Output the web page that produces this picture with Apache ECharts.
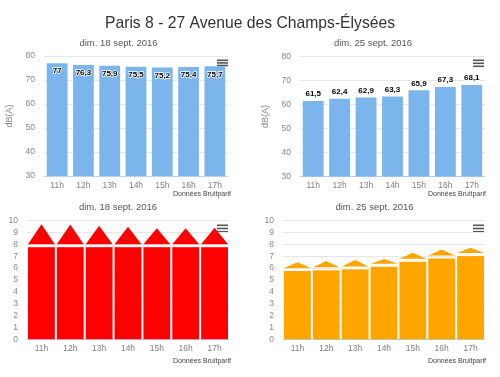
<!DOCTYPE html>
<html>
<head>
<meta charset="utf-8">
<script src="https://cdn.jsdelivr.net/npm/echarts@6/dist/echarts.min.js"></script>
<style>
  html, body { margin: 0; padding: 0; background: #fff; }
  #chart { width: 500px; height: 377px; }
</style>
</head>
<body>
<div id="chart"></div>
<script>
// heures
var hours = ["11h", "12h", "13h", "14h", "15h", "16h", "17h"];
// niveaux sonores dB(A)
var noise18 = [77, 76.3, 75.9, 75.5, 75.2, 75.4, 75.7];
var noise25 = [61.5, 62.4, 62.9, 63.3, 65.9, 67.3, 68.1];
// indices (corps + pointe du toit)
var body18 = [7.85, 7.85, 7.85, 7.85, 7.85, 7.85, 7.85];
var peak18 = [9.7, 9.68, 9.57, 9.49, 9.36, 9.36, 9.4];
var body25 = [5.84, 5.9, 5.98, 6.2, 6.62, 6.9, 7.1];
var peak25 = [6.49, 6.6, 6.68, 6.77, 7.3, 7.58, 7.72];

var font = '"Liberation Sans", Arial, sans-serif';

function commaLabel(p) {
  return String(p.value).replace(".", ",");
}

function houseData(body, peak) {
  return body.map(function (b, i) {
    return [i, b, peak[i]];
  });
}

// colonne + toit triangulaire
function renderHouse(params, api) {
  var i = api.value(0);
  var p0 = api.coord([i, 0]);
  var p1 = api.coord([i, api.value(1)]);
  var p2 = api.coord([i, api.value(2)]);
  var w = api.size([1, 0])[0] - 2;
  var color = api.visual("color");
  var x0 = p0[0] - w / 2;
  return {
    type: "group",
    children: [
      {
        type: "rect",
        shape: { x: x0, y: p1[1], width: w, height: p0[1] - p1[1] },
        style: { fill: color }
      },
      {
        type: "rect",
        shape: { x: x0, y: p1[1] - 0.5, width: w, height: 1.5 },
        style: { fill: "#fff" }
      },
      {
        type: "polygon",
        shape: { points: [[x0, p1[1] - 2], [x0 + w, p1[1] - 2], [p2[0], p2[1]]] },
        style: { fill: color }
      }
    ]
  };
}

function xAxisCfg(gridIndex) {
  return {
    type: "category",
    gridIndex: gridIndex,
    data: hours,
    axisLine: { lineStyle: { color: "#C0D0E0" } },
    axisTick: { length: 5, lineStyle: { color: "#C0D0E0" } },
    axisLabel: { color: "#808080", fontSize: 8.5, fontFamily: font, margin: 5 }
  };
}

function yAxisCfg(gridIndex, min, max, interval, name) {
  return {
    type: "value",
    gridIndex: gridIndex,
    min: min,
    max: max,
    interval: interval,
    name: name,
    nameLocation: "middle",
    nameGap: 30,
    nameTextStyle: { color: "#888", fontSize: 9, fontFamily: font },
    axisLine: { show: false },
    axisTick: { show: false },
    axisLabel: { color: "#888", fontSize: 8.5, fontFamily: font, margin: 9 },
    splitLine: { lineStyle: { color: "#e6e6e6" } }
  };
}

function menuIcon(x, y, gap) {
  var els = [{ type: "rect", shape: { x: x - 2, y: y - 2, width: 15, height: 11 }, style: { fill: "#fff" } }];
  for (var k = 0; k < 3; k++) {
    els.push({
      type: "rect",
      shape: { x: x, y: y + k * gap, width: 11, height: 1.6 },
      style: { fill: "#555" }
    });
  }
  return els;
}

function credit(x, y) {
  return {
    type: "text",
    style: {
      text: "Données Bruitparif",
      x: x,
      y: y,
      align: "right",
      verticalAlign: "middle",
      font: "7px " + font,
      fill: "#444"
    }
  };
}

function subtitle(text, x, y) {
  return {
    type: "text",
    style: {
      text: text,
      x: x,
      y: y,
      align: "center",
      verticalAlign: "middle",
      font: "9.5px " + font,
      fill: "#555"
    }
  };
}

var option = {
  animation: false,
  title: {
    text: "Paris 8 - 27 Avenue des Champs-Élysées",
    left: "center",
    top: 11,
    textStyle: { fontSize: 15.7, fontWeight: "normal", color: "#333", fontFamily: font }
  },
  grid: [
    { left: 44, top: 56, width: 184, height: 120 },
    { left: 300, top: 56.5, width: 185, height: 120 },
    { left: 27, top: 220.7, width: 202, height: 118.6 },
    { left: 283, top: 220.7, width: 202, height: 118.6 }
  ],
  xAxis: [xAxisCfg(0), xAxisCfg(1), xAxisCfg(2), xAxisCfg(3)],
  yAxis: [
    yAxisCfg(0, 30, 80, 10, "dB(A)"),
    yAxisCfg(1, 30, 80, 10, "dB(A)"),
    yAxisCfg(2, 0, 10, 1, ""),
    yAxisCfg(3, 0, 10, 1, "")
  ],
  series: [
    {
      type: "bar",
      xAxisIndex: 0,
      yAxisIndex: 0,
      data: noise18,
      barCategoryGap: "21%",
      itemStyle: { color: "#7cb5ec" },
      label: {
        show: true,
        position: "insideTop",
        distance: 4,
        formatter: commaLabel,
        color: "#000",
        fontSize: 8,
        fontWeight: "bold",
        fontFamily: font,
        textBorderColor: "#fff",
        textBorderWidth: 1.5
      }
    },
    {
      type: "bar",
      xAxisIndex: 1,
      yAxisIndex: 1,
      data: noise25,
      barCategoryGap: "21%",
      itemStyle: { color: "#7cb5ec" },
      label: {
        show: true,
        position: "top",
        distance: 3,
        formatter: commaLabel,
        color: "#000",
        fontSize: 8,
        fontWeight: "bold",
        fontFamily: font,
        textBorderColor: "#fff",
        textBorderWidth: 1.5
      }
    },
    {
      type: "custom",
      xAxisIndex: 2,
      yAxisIndex: 2,
      renderItem: renderHouse,
      encode: { x: 0, y: [1, 2] },
      itemStyle: { color: "#ff0000" },
      data: houseData(body18, peak18)
    },
    {
      type: "custom",
      xAxisIndex: 3,
      yAxisIndex: 3,
      renderItem: renderHouse,
      encode: { x: 0, y: [1, 2] },
      itemStyle: { color: "#ffa500" },
      data: houseData(body25, peak25)
    }
  ],
  graphic: [].concat(
    [
      subtitle("dim. 18 sept. 2016", 118.5, 43),
      subtitle("dim. 25 sept. 2016", 373, 43),
      subtitle("dim. 18 sept. 2016", 118, 207),
      subtitle("dim. 25 sept. 2016", 374.5, 207)
    ],
    menuIcon(217, 59.5, 2.6),
    menuIcon(473, 59.5, 3),
    menuIcon(217, 224.5, 3.2),
    menuIcon(473, 224.5, 3.2),
    [credit(231, 194), credit(486, 194), credit(231, 361), credit(486, 361)]
  )
};

var chart = echarts.init(document.getElementById("chart"));
chart.setOption(option);
</script>
</body>
</html>
